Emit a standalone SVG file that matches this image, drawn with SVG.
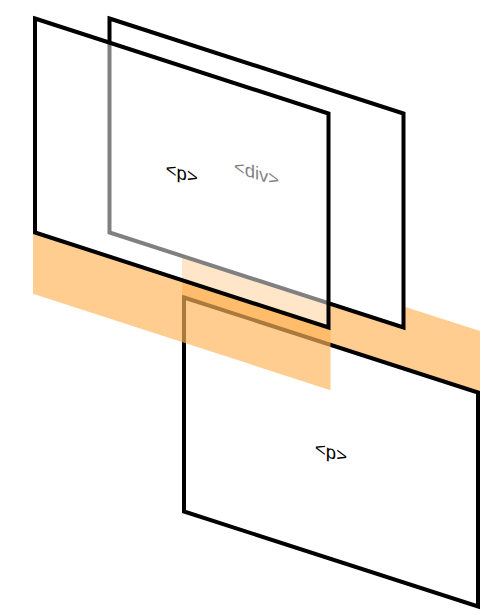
<svg xmlns="http://www.w3.org/2000/svg" width="493" height="615" viewBox="0 0 493 615">
<style>
.panel{stroke:#000;stroke-width:4;stroke-linejoin:miter}
.band{fill:rgb(255,180,90);fill-opacity:0.67}
.lbl{font-family:"Liberation Sans",Arial,sans-serif;font-size:18.5px;text-anchor:middle;dominant-baseline:central}
</style>
<rect width="493" height="615" fill="#fff"/>
<g id="band-lower">
<polygon class="band" points="182,234.9 480,331.1 480,393.1 182,296.9"/>
</g>
<g id="div-panel">
<polygon class="panel" fill="#fff" points="109.5,18.5 403.5,113.5 403.5,327.5 109.5,232.5"/>
<text class="lbl" fill="#000" transform="translate(256.5,173) skewY(17.93)">&lt;div&gt;</text>
</g>
<g id="p-lower">
<polygon class="panel" fill="#fff" points="184,297.5 478,392.5 478,606.5 184,511.5"/>
<text class="lbl" fill="#000" transform="translate(331,452) skewY(17.93)">&lt;p&gt;</text>
</g>
<g id="band-upper">
<polygon class="band" points="33,231.85 330.5,328.15 330.5,390.15 33,293.85"/>
</g>
<g id="p-upper">
<polygon class="panel" fill="#fff" fill-opacity="0.5" points="35,18.5 328.5,113.5 328.5,327.5 35,232.5"/>
<text class="lbl" fill="#000" transform="translate(181.75,173) skewY(17.93)">&lt;p&gt;</text>
</g>
</svg>
